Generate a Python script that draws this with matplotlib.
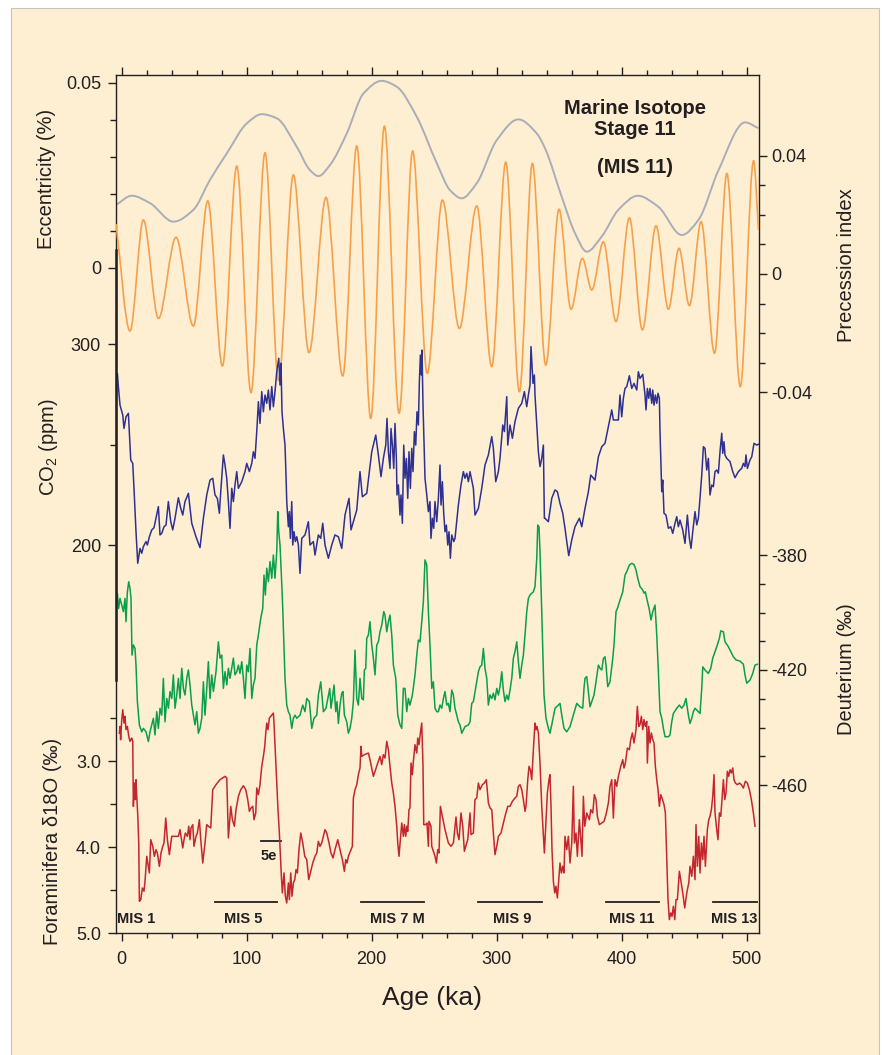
"""
Orbital forcing and climate records of the last 500 ka (MIS 11 figure).
"""

import matplotlib
matplotlib.use("Agg")

import numpy as np
import matplotlib.pyplot as plt
from matplotlib.path import Path
from matplotlib.patches import PathPatch, Rectangle

plt.rcParams["font.family"] = ["Liberation Sans", "DejaVu Sans"]
plt.rcParams["mathtext.fontset"] = "custom"
plt.rcParams["mathtext.rm"] = "Liberation Sans"

# ---------------------------------------------------------------- data
# eccentricity (age ka, value)
eccentricity = [
    (-4.5, 0.0170), (8.1, 0.0195), (22.7, 0.0175), (41.4, 0.0125), (57.4, 0.0157),
    (70.7, 0.0238), (84.1, 0.0309), (100.1, 0.0390), (112.1, 0.0415), (124.1, 0.0404),
    (140.1, 0.0327), (150.7, 0.0264), (157.4, 0.0248), (166.7, 0.0278), (180.1, 0.0363),
    (193.5, 0.0471), (208.1, 0.0505), (220.1, 0.0489), (236.1, 0.0408), (252.1, 0.0283),
    (262.7, 0.0210), (272.1, 0.0188), (284.1, 0.0229), (300.1, 0.0345), (317.4, 0.0401),
    (332.1, 0.0363), (338.7, 0.0323), (352.1, 0.0192), (362.7, 0.0094), (372.1, 0.0044),
    (384.1, 0.0085), (397.4, 0.0157), (412.9, 0.0195), (429.4, 0.0165), (448.1, 0.0089),
    (461.5, 0.0130), (477.5, 0.0264), (498.8, 0.0393), (509.5, 0.0377),
]

# precession index, peaks and troughs (age ka, value)
precession = [
    (-4.5, 0.0169), (6.7, -0.0193), (17.4, 0.0183), (29.4, -0.0150), (43.5, 0.0124),
    (57.4, -0.0176), (68.9, 0.0247), (80.6, -0.0311), (92.1, 0.0365), (103.5, -0.0401),
    (114.7, 0.0410), (125.5, -0.0360), (137.4, 0.0335), (149.9, -0.0266), (163.5, 0.0259),
    (176.9, -0.0345), (188.1, 0.0433), (199.3, -0.0488), (210.2, 0.0500), (222.0, -0.0471),
    (232.8, 0.0416), (244.5, -0.0336), (256.6, 0.0250), (270.2, -0.0184), (284.1, 0.0230),
    (296.1, -0.0313), (307.3, 0.0378), (318.2, -0.0398), (328.6, 0.0374), (339.3, -0.0308),
    (349.9, 0.0219), (359.5, -0.0119), (368.6, 0.0053), (376.1, -0.0054), (385.4, 0.0109),
    (395.5, -0.0161), (406.2, 0.0190), (416.6, -0.0189), (427.5, 0.0163), (437.4, -0.0119),
    (445.9, 0.0087), (454.2, -0.0107), (463.6, 0.0177), (474.3, -0.0268), (484.2, 0.0340),
    (494.9, -0.0381), (505.6, 0.0383), (509.5, 0.0149),
]

# CO2 (age ka, ppm)
co2 = [
    (-4.5, 284.6), (-3.4, 285.4), (-2.6, 278.8), (-1.3, 269.6), (0.9, 264.7), (1.9, 258.0),
    (3.5, 263.8), (5.4, 265.5), (7.3, 242.3), (8.9, 240.6), (9.9, 228.2), (11.5, 206.6),
    (12.9, 190.9), (14.7, 198.3), (16.1, 195.9), (17.4, 199.2), (19.5, 201.7), (20.6, 200.0),
    (22.2, 204.1), (24.1, 207.5), (25.9, 208.6), (27.5, 213.3), (29.4, 219.1), (30.7, 205.0),
    (32.1, 205.8), (33.9, 209.1), (35.5, 209.9), (37.4, 221.6), (39.3, 211.6), (40.9, 207.5),
    (42.7, 213.3), (45.4, 223.5), (47.3, 218.2), (48.9, 214.9), (50.7, 221.6), (53.4, 225.7),
    (56.1, 210.8), (59.5, 204.1), (62.7, 198.7), (65.4, 213.3), (68.1, 224.9), (70.7, 232.3),
    (72.9, 233.2), (74.7, 224.9), (76.6, 223.2), (78.2, 215.8), (79.3, 226.5), (81.4, 244.8),
    (82.7, 239.8), (84.1, 233.2), (85.4, 221.6), (86.7, 208.3), (88.1, 228.2), (89.4, 221.6),
    (90.7, 229.9), (92.1, 236.5), (93.4, 228.2), (96.1, 231.5), (98.7, 236.5), (100.1, 240.6),
    (102.2, 236.5), (104.1, 240.6), (105.4, 246.4), (106.7, 243.1), (108.1, 256.4), (109.4, 271.3),
    (110.7, 260.5), (112.1, 276.3), (113.4, 266.3), (114.7, 274.6), (116.1, 270.5), (117.4, 277.1),
    (118.7, 267.2), (120.1, 278.8), (121.4, 268.8), (122.7, 276.3), (124.1, 286.2), (124.9, 289.5),
    (125.7, 292.9), (126.7, 279.6), (127.5, 290.4), (128.3, 266.3), (129.4, 258.0), (130.7, 249.7),
    (131.5, 234.8), (132.1, 221.6), (133.4, 209.1), (134.2, 216.6), (135.0, 203.3), (136.1, 221.6),
    (136.9, 200.0), (137.9, 206.6), (139.0, 201.7), (140.1, 204.1), (141.4, 200.0), (142.7, 185.9),
    (144.1, 203.3), (146.7, 205.0), (149.4, 211.6), (150.7, 200.0), (153.4, 201.7), (154.7, 195.0),
    (157.4, 205.0), (159.3, 203.3), (160.9, 210.8), (162.7, 200.0), (165.4, 193.4), (168.1, 200.0),
    (170.7, 205.0), (173.4, 204.1), (176.1, 198.3), (178.7, 214.9), (181.9, 223.2), (183.5, 207.5),
    (185.4, 211.6), (188.1, 217.4), (190.7, 236.5), (192.6, 224.0), (196.1, 225.7), (200.1, 246.4),
    (203.3, 254.7), (205.4, 244.8), (207.5, 234.0), (209.4, 243.1), (211.3, 249.7), (212.3, 263.0),
    (213.4, 246.4), (214.7, 238.1), (215.5, 258.0), (216.6, 249.7), (217.7, 238.1), (218.7, 260.5),
    (219.8, 243.1), (220.3, 224.9), (221.4, 229.9), (222.7, 214.9), (223.5, 224.9), (224.6, 210.8),
    (225.7, 249.7), (226.7, 233.2), (227.8, 243.1), (228.9, 223.2), (229.9, 246.4), (231.0, 228.2),
    (232.1, 248.1), (233.1, 236.5), (234.2, 256.4), (235.3, 249.7), (236.3, 266.3), (237.4, 259.7),
    (238.2, 281.3), (239.0, 294.5), (239.8, 284.6), (240.3, 297.0), (241.1, 269.6), (241.9, 251.4),
    (242.7, 233.2), (244.1, 224.9), (245.4, 216.6), (246.7, 221.6), (247.5, 203.3), (248.6, 213.3),
    (249.7, 208.3), (250.7, 221.6), (252.1, 211.6), (253.4, 223.2), (254.7, 239.8), (255.5, 219.9),
    (256.6, 231.5), (257.6, 216.6), (258.7, 206.6), (259.8, 209.9), (260.9, 200.0), (261.9, 206.6),
    (263.0, 193.4), (264.1, 205.0), (265.7, 201.7), (266.7, 203.3), (269.4, 219.9), (271.5, 229.9),
    (273.4, 236.5), (274.7, 233.2), (276.1, 235.7), (277.4, 231.5), (278.7, 236.5), (281.4, 228.2),
    (282.7, 214.9), (285.4, 218.2), (288.1, 228.2), (290.7, 239.8), (293.4, 244.8), (296.1, 253.9),
    (297.4, 248.1), (299.3, 231.5), (301.4, 236.5), (302.7, 243.1), (304.9, 259.7), (306.2, 256.4),
    (308.1, 273.8), (308.9, 249.7), (310.7, 259.7), (312.6, 253.1), (314.7, 261.4), (317.4, 268.0),
    (320.1, 270.5), (322.2, 276.3), (324.1, 268.8), (325.4, 274.6), (326.7, 279.6), (327.5, 298.7),
    (328.3, 289.5), (329.1, 280.4), (330.2, 284.6), (330.7, 274.6), (333.4, 246.4), (334.7, 239.0),
    (336.1, 243.1), (337.4, 249.7), (338.2, 213.3), (338.7, 213.3), (341.4, 211.6), (344.1, 223.2),
    (346.7, 227.4), (348.6, 226.5), (350.7, 220.7), (352.9, 215.8), (354.7, 208.3), (356.1, 201.7),
    (357.7, 194.7), (360.1, 202.5), (362.7, 209.1), (366.2, 213.3), (368.1, 209.1), (370.7, 218.2),
    (373.4, 226.5), (375.3, 234.8), (378.7, 232.3), (381.4, 243.9), (384.1, 248.9), (386.7, 250.6),
    (389.4, 258.9), (392.1, 267.2), (393.4, 262.2), (397.4, 262.2), (398.7, 274.6), (400.1, 263.8),
    (401.4, 273.0), (402.7, 277.9), (404.1, 278.8), (406.2, 284.2), (408.1, 277.9), (409.9, 280.4),
    (412.1, 277.1), (413.4, 286.2), (414.7, 282.9), (416.9, 284.9), (418.7, 274.6), (419.5, 267.2),
    (420.6, 277.9), (421.7, 273.0), (422.7, 277.9), (424.1, 270.5), (424.9, 277.1), (425.9, 269.6),
    (427.0, 274.6), (428.1, 270.5), (429.1, 275.5), (430.2, 273.0), (430.7, 256.4), (431.3, 243.1),
    (432.1, 226.5), (432.9, 232.3), (433.9, 215.8), (435.5, 214.9), (437.4, 208.3), (439.3, 209.1),
    (440.9, 205.8), (442.7, 210.8), (444.1, 214.1), (445.4, 209.1), (446.7, 212.4), (448.9, 207.5),
    (450.7, 200.8), (452.6, 214.9), (454.2, 203.3), (455.5, 198.3), (456.9, 206.6), (458.7, 216.6),
    (460.1, 210.0), (461.4, 213.3), (462.7, 223.2), (464.1, 234.8), (465.4, 248.9), (466.7, 248.1),
    (468.1, 237.3), (469.4, 243.1), (470.7, 224.9), (472.1, 229.8), (473.4, 229.0), (474.7, 236.5),
    (476.1, 237.3), (477.4, 235.7), (478.7, 246.4), (480.1, 255.6), (480.9, 245.6), (481.9, 251.4),
    (482.7, 244.8), (484.1, 243.1), (486.7, 241.5), (488.9, 236.5), (490.7, 233.5), (493.4, 236.5),
    (496.1, 238.2), (497.4, 240.6), (498.7, 239.0), (499.5, 244.8), (500.6, 238.1), (502.7, 242.3),
    (504.1, 243.9), (505.9, 250.6), (508.1, 249.7), (509.4, 250.1),
]

# deuterium (age ka, permil)
deuterium = [
    (-4.9, -392.8), (-4.5, -399.7), (-3.4, -393.3), (-2.4, -398.6), (-1.3, -395.1), (0.1, -397.4),
    (1.4, -399.7), (2.7, -395.1), (3.5, -403.2), (4.6, -392.8), (5.7, -389.3), (6.7, -391.6),
    (7.5, -395.1), (8.3, -414.8), (9.4, -411.3), (10.7, -412.5), (11.5, -418.3), (12.6, -431.0),
    (14.2, -439.1), (16.1, -441.5), (17.4, -440.3), (19.5, -441.5), (21.4, -444.9), (22.7, -441.5),
    (24.1, -439.1), (25.4, -436.8), (26.7, -442.6), (28.1, -434.5), (29.4, -440.3), (30.7, -433.3),
    (32.1, -435.7), (33.4, -422.9), (34.7, -438.0), (36.1, -429.9), (37.4, -433.3), (38.7, -427.5),
    (40.1, -429.9), (41.4, -421.7), (42.7, -433.3), (44.1, -428.7), (45.4, -422.9), (46.7, -429.9),
    (48.1, -419.4), (49.4, -426.4), (50.7, -428.7), (52.1, -422.9), (53.4, -420.0), (54.7, -425.2),
    (56.1, -432.2), (57.4, -435.7), (58.7, -439.1), (60.1, -434.5), (61.4, -442.0), (62.7, -440.3),
    (64.1, -436.8), (65.4, -424.1), (66.7, -435.7), (68.1, -426.4), (69.4, -417.1), (70.7, -429.9),
    (72.1, -421.7), (73.4, -427.5), (75.5, -420.6), (77.4, -410.2), (78.7, -415.9), (80.1, -414.8),
    (81.4, -426.4), (82.7, -420.6), (84.1, -425.2), (85.4, -419.4), (86.7, -422.9), (89.4, -415.9),
    (90.7, -421.7), (92.1, -420.6), (93.4, -418.3), (94.7, -421.2), (96.1, -417.1), (97.4, -422.9),
    (98.7, -429.9), (100.1, -418.3), (101.4, -420.6), (102.7, -412.5), (104.1, -429.9), (105.4, -425.2),
    (106.7, -422.9), (108.1, -411.3), (109.4, -407.8), (111.3, -402.0), (112.9, -398.6), (113.9, -387.0),
    (115.0, -393.9), (116.1, -384.6), (117.4, -389.3), (118.7, -382.3), (120.1, -388.1), (121.4, -380.0),
    (122.7, -388.1), (124.1, -378.8), (124.9, -364.9), (125.7, -371.9), (126.7, -376.5), (127.8, -387.0),
    (128.9, -398.6), (129.9, -412.5), (130.7, -422.9), (132.1, -432.2), (133.4, -434.5), (134.7, -435.7),
    (136.1, -440.3), (137.4, -436.8), (138.7, -435.7), (140.1, -436.8), (142.7, -435.7), (144.9, -432.2),
    (146.7, -434.5), (148.1, -429.9), (150.2, -431.0), (152.1, -440.3), (153.9, -436.8), (156.1, -435.7),
    (157.4, -428.7), (159.3, -424.1), (161.4, -434.5), (163.5, -433.3), (166.5, -426.4), (167.5, -433.3),
    (168.6, -429.9), (169.9, -425.2), (171.3, -434.5), (172.3, -431.0), (173.4, -438.6), (174.7, -432.2),
    (176.1, -428.1), (177.1, -427.5), (178.2, -435.7), (180.1, -438.0), (181.4, -442.0), (182.7, -440.3),
    (184.1, -436.8), (185.4, -431.0), (186.7, -413.1), (188.1, -429.9), (189.4, -432.2), (190.7, -422.9),
    (192.1, -429.9), (193.4, -430.4), (194.2, -420.0), (195.3, -419.4), (196.1, -409.0), (197.4, -407.8),
    (198.7, -403.2), (200.1, -411.3), (201.4, -415.9), (202.7, -421.7), (204.1, -411.3), (205.4, -410.2),
    (206.7, -406.7), (208.1, -404.4), (209.7, -399.7), (210.7, -400.9), (212.1, -406.7), (213.4, -403.2),
    (214.7, -400.9), (216.1, -407.8), (217.4, -418.3), (219.3, -422.9), (220.9, -435.7), (222.7, -439.1),
    (224.1, -440.3), (225.4, -426.4), (226.7, -426.4), (228.1, -434.5), (229.4, -429.9), (230.7, -432.2),
    (232.6, -428.7), (234.7, -421.7), (236.1, -414.8), (237.4, -409.6), (238.7, -410.2), (240.1, -403.2),
    (241.4, -396.2), (242.7, -381.7), (244.1, -383.5), (245.4, -399.7), (246.7, -411.3), (248.1, -426.4),
    (249.4, -424.1), (250.7, -433.3), (252.1, -434.5), (253.4, -434.5), (254.7, -432.2), (256.1, -433.3),
    (257.4, -429.9), (258.7, -427.5), (260.1, -432.2), (261.4, -431.6), (262.7, -434.5), (264.1, -427.0),
    (265.4, -428.7), (266.7, -433.3), (268.1, -435.7), (269.4, -438.0), (270.7, -439.1), (272.1, -442.0),
    (274.7, -439.7), (277.4, -439.1), (278.7, -438.0), (280.1, -431.6), (281.4, -431.0), (284.1, -424.1),
    (285.4, -420.6), (286.7, -418.9), (288.1, -418.3), (289.4, -412.5), (290.7, -419.4), (292.1, -422.9),
    (293.4, -432.2), (294.7, -428.7), (296.1, -429.9), (297.4, -428.1), (298.7, -430.4), (300.1, -426.4),
    (301.4, -428.7), (302.7, -425.8), (304.1, -420.6), (305.4, -427.0), (306.7, -431.0), (308.1, -428.7),
    (309.4, -430.4), (310.7, -427.0), (312.1, -422.9), (313.4, -415.9), (314.7, -413.6), (316.1, -410.2),
    (317.4, -417.1), (318.7, -422.9), (320.1, -418.3), (321.4, -414.8), (322.7, -407.8), (324.1, -399.7),
    (325.4, -395.1), (326.7, -393.9), (328.1, -393.3), (329.4, -392.8), (330.7, -391.0), (332.1, -381.2),
    (332.9, -369.6), (333.9, -370.2), (334.7, -378.8), (336.1, -399.7), (337.9, -428.7), (339.5, -436.8),
    (341.4, -440.3), (342.7, -442.0), (344.1, -439.1), (346.7, -433.3), (349.4, -432.2), (350.7, -431.6),
    (352.1, -435.7), (353.9, -440.3), (356.1, -441.5), (358.7, -439.7), (361.4, -435.7), (364.1, -431.6),
    (366.7, -432.8), (368.9, -433.3), (369.9, -426.4), (370.7, -422.9), (372.1, -422.3), (373.4, -427.5),
    (374.7, -432.8), (376.1, -431.0), (377.9, -428.7), (379.5, -424.1), (381.4, -418.3), (382.7, -419.4),
    (384.1, -420.0), (385.4, -416.0), (386.7, -415.4), (387.5, -418.3), (388.9, -425.8), (390.7, -424.1),
    (392.9, -416.0), (393.9, -411.3), (395.5, -399.7), (396.6, -398.6), (398.7, -395.7), (400.9, -392.8),
    (402.7, -387.0), (404.1, -385.8), (406.2, -383.5), (408.1, -382.9), (409.9, -383.3), (411.5, -385.2),
    (412.9, -388.1), (414.7, -391.0), (416.9, -392.2), (417.9, -393.3), (419.0, -392.8), (420.1, -395.1),
    (422.2, -399.1), (423.5, -402.6), (424.9, -399.7), (426.7, -397.4), (428.1, -407.8), (429.4, -420.6),
    (430.7, -434.5), (432.1, -436.8), (433.4, -440.3), (434.7, -443.2), (437.4, -443.2), (438.7, -442.6),
    (440.1, -438.0), (441.4, -435.1), (444.1, -433.3), (446.2, -432.2), (448.1, -433.3), (449.9, -432.2),
    (451.5, -429.9), (452.6, -433.3), (453.4, -435.7), (454.7, -438.6), (456.1, -436.8), (457.4, -434.5),
    (458.7, -433.3), (460.1, -433.9), (461.4, -434.5), (462.7, -435.1), (464.1, -426.4), (464.9, -418.9),
    (466.7, -420.0), (469.4, -421.2), (471.3, -419.4), (472.9, -415.9), (474.7, -413.6), (476.1, -411.9),
    (478.2, -409.0), (479.3, -406.4), (481.4, -406.7), (482.7, -410.2), (485.4, -411.9), (487.3, -413.6),
    (489.4, -415.4), (491.5, -416.5), (494.7, -416.9), (497.4, -418.0), (498.7, -421.7), (500.1, -424.6),
    (502.7, -423.5), (504.9, -421.2), (506.7, -418.3), (508.6, -418.0),
]

# foraminifera d18O (age ka, permil)
d18o = [
    (-1.8, 2.670), (-1.3, 2.593), (-0.8, 2.748), (0.1, 2.515), (0.9, 2.399), (1.9, 2.554),
    (2.7, 2.476), (3.5, 2.631), (4.6, 2.593), (5.7, 2.709), (6.7, 2.767), (8.1, 2.728),
    (8.9, 2.767), (9.4, 3.523), (10.2, 3.252), (11.0, 3.445), (11.5, 3.213), (12.1, 3.407),
    (12.9, 3.620), (13.7, 3.949), (14.2, 4.628), (15.3, 4.608), (16.6, 4.473), (17.9, 4.511),
    (18.7, 4.395), (20.1, 4.104), (21.4, 4.221), (22.2, 4.298), (23.3, 3.911), (24.9, 3.988),
    (26.2, 4.104), (27.5, 4.027), (28.6, 4.066), (30.2, 4.221), (31.5, 4.066), (32.9, 3.988),
    (33.9, 3.949), (35.3, 3.659), (36.6, 3.911), (38.2, 4.085), (40.1, 3.872), (41.9, 3.872),
    (45.4, 3.872), (46.7, 3.794), (47.5, 3.872), (48.9, 4.007), (49.9, 3.911), (51.0, 3.833),
    (52.6, 3.872), (53.7, 3.755), (54.7, 3.911), (55.5, 3.775), (56.9, 3.736), (57.9, 3.988),
    (59.5, 3.872), (60.6, 3.833), (62.2, 3.678), (63.3, 3.911), (64.9, 4.182), (66.7, 3.949),
    (68.1, 3.736), (69.4, 3.755), (71.3, 3.775), (72.9, 3.329), (75.5, 3.271), (78.7, 3.213),
    (82.7, 3.174), (84.1, 3.193), (85.4, 3.891), (87.3, 3.523), (88.6, 3.678), (90.2, 3.755),
    (91.5, 3.562), (93.4, 3.407), (95.3, 3.329), (97.4, 3.283), (99.3, 3.329), (100.9, 3.445),
    (102.2, 3.581), (103.5, 3.542), (104.9, 3.523), (105.9, 3.678), (107.3, 3.600), (108.1, 3.310),
    (109.4, 3.387), (110.7, 3.271), (112.1, 3.058), (113.4, 2.942), (114.5, 2.825), (115.3, 2.670),
    (116.1, 2.554), (117.1, 2.631), (118.2, 2.496), (119.3, 2.476), (120.3, 2.457), (121.4, 2.438),
    (121.9, 2.554), (123.0, 2.903), (124.1, 3.252), (125.1, 3.562), (126.2, 3.833), (127.3, 4.182),
    (127.8, 4.337), (128.6, 4.531), (129.9, 4.298), (131.0, 4.569), (132.1, 4.647), (133.4, 4.414),
    (134.2, 4.608), (135.3, 4.298), (136.3, 4.569), (137.4, 4.414), (138.5, 4.376), (139.5, 4.259),
    (140.6, 4.298), (141.9, 4.027), (143.3, 3.833), (144.9, 3.949), (146.5, 4.104), (148.1, 4.143),
    (149.7, 4.376), (151.3, 4.279), (152.9, 4.182), (154.7, 4.104), (156.1, 4.066), (157.4, 3.930),
    (158.7, 3.988), (160.1, 3.949), (162.7, 3.794), (164.1, 3.833), (165.9, 3.949), (167.5, 4.066),
    (169.1, 4.124), (170.7, 4.027), (172.9, 3.911), (174.7, 4.027), (176.6, 4.143), (178.2, 4.279),
    (179.3, 4.143), (180.3, 4.182), (181.4, 4.104), (183.0, 4.046), (184.6, 3.988), (185.4, 3.426),
    (186.7, 3.329), (188.1, 3.271), (189.4, 3.155), (190.7, 3.077), (191.5, 2.825), (192.1, 2.942),
    (194.2, 2.922), (197.4, 2.903), (198.7, 2.980), (201.4, 3.174), (202.7, 3.116), (204.9, 3.019),
    (206.7, 2.942), (208.1, 3.038), (209.4, 2.922), (210.7, 2.961), (212.1, 2.767), (213.4, 2.864),
    (214.7, 3.058), (216.1, 3.252), (217.4, 3.368), (218.7, 3.523), (220.1, 3.755), (220.9, 3.949),
    (221.9, 4.104), (223.0, 3.911), (224.1, 3.717), (225.4, 3.872), (226.2, 3.736), (227.3, 3.872),
    (228.1, 3.755), (228.9, 3.814), (229.9, 3.562), (230.7, 3.542), (231.5, 3.019), (232.6, 3.155),
    (233.4, 2.999), (234.7, 2.806), (236.1, 2.903), (236.9, 2.728), (237.9, 2.806), (239.0, 2.670),
    (240.1, 2.554), (241.1, 3.058), (241.7, 3.736), (243.3, 3.736), (244.3, 3.717), (245.4, 3.988),
    (245.9, 3.697), (247.5, 3.755), (248.1, 3.988), (249.4, 4.046), (250.7, 4.104), (251.8, 4.182),
    (252.9, 4.027), (253.9, 4.066), (255.0, 3.523), (256.6, 3.639), (258.7, 3.794), (261.4, 3.949),
    (263.5, 3.988), (265.4, 3.949), (266.7, 3.755), (267.5, 3.647), (268.6, 3.833), (269.9, 3.911),
    (271.5, 3.600), (272.9, 3.755), (274.2, 4.046), (275.3, 3.988), (276.9, 3.911), (278.7, 3.600),
    (279.5, 3.852), (281.4, 3.833), (282.7, 3.445), (284.1, 3.426), (285.4, 3.252), (286.7, 3.329),
    (288.6, 3.271), (290.2, 3.252), (291.8, 3.213), (293.4, 3.484), (294.7, 3.542), (296.1, 3.562),
    (297.4, 3.833), (298.7, 4.085), (300.1, 3.988), (301.4, 3.872), (303.5, 3.833), (305.4, 3.717),
    (306.7, 3.639), (308.9, 3.523), (310.7, 3.523), (312.6, 3.465), (314.7, 3.426), (316.1, 3.407),
    (317.4, 3.290), (318.7, 3.271), (320.1, 3.329), (321.4, 3.445), (322.7, 3.581), (323.5, 3.523),
    (324.9, 3.213), (325.9, 3.058), (327.0, 3.097), (328.1, 3.213), (328.9, 2.999), (329.7, 2.786),
    (330.7, 2.554), (331.5, 2.631), (332.3, 2.593), (333.4, 2.670), (334.7, 3.019), (336.1, 3.523),
    (337.4, 3.872), (338.2, 4.066), (339.5, 3.678), (340.6, 3.368), (341.9, 3.213), (342.7, 3.155),
    (343.5, 3.523), (344.3, 4.027), (345.4, 4.395), (346.5, 4.531), (347.5, 4.453), (348.6, 4.589),
    (349.7, 4.376), (350.7, 4.182), (351.8, 4.298), (352.9, 4.221), (353.9, 4.298), (354.7, 3.872),
    (356.1, 4.027), (357.4, 3.872), (358.7, 4.182), (360.1, 3.949), (361.4, 3.290), (362.2, 3.949),
    (363.5, 3.833), (364.6, 4.104), (366.2, 3.678), (367.3, 3.911), (368.3, 4.104), (369.4, 3.407),
    (370.5, 3.755), (372.1, 3.600), (374.2, 3.678), (375.3, 3.562), (376.9, 3.600), (378.2, 3.387),
    (379.5, 3.445), (380.6, 3.639), (382.2, 3.736), (384.1, 3.717), (385.9, 3.697), (387.5, 3.620),
    (389.4, 3.484), (390.7, 3.290), (392.1, 3.213), (393.4, 3.659), (394.7, 3.213), (396.1, 3.290),
    (397.4, 3.174), (399.3, 3.058), (400.9, 2.980), (401.9, 3.077), (403.0, 3.019), (404.6, 2.845),
    (406.2, 2.864), (407.3, 2.748), (408.6, 2.670), (409.9, 2.786), (411.5, 2.631), (412.6, 2.360),
    (413.7, 2.593), (414.7, 2.573), (415.8, 2.476), (416.9, 2.631), (417.9, 2.515), (419.0, 2.593),
    (420.1, 2.535), (420.6, 3.019), (421.7, 2.593), (422.7, 2.786), (423.8, 2.670), (424.9, 2.748),
    (425.9, 2.786), (427.0, 3.058), (428.1, 3.213), (429.1, 3.329), (430.2, 3.523), (431.3, 3.387),
    (432.3, 3.426), (433.9, 3.503), (435.0, 3.600), (436.1, 4.143), (437.1, 4.608), (438.2, 4.841),
    (439.3, 4.763), (440.3, 4.802), (441.4, 4.686), (442.5, 4.841), (443.5, 4.608), (444.6, 4.608),
    (446.2, 4.279), (447.3, 4.376), (448.9, 4.531), (450.5, 4.705), (452.1, 4.531), (453.7, 4.414),
    (454.7, 4.221), (456.1, 4.337), (457.4, 4.104), (458.7, 4.376), (459.5, 3.736), (460.6, 4.221),
    (461.7, 3.872), (462.7, 4.298), (463.8, 3.949), (464.9, 4.143), (465.9, 3.872), (467.0, 4.221),
    (468.6, 3.794), (469.7, 3.678), (470.7, 3.639), (471.8, 3.562), (472.9, 3.407), (473.9, 3.155),
    (474.7, 3.600), (476.1, 3.794), (477.1, 3.911), (478.2, 3.600), (479.3, 3.639), (480.3, 3.445),
    (481.4, 3.213), (482.5, 3.445), (483.5, 3.368), (484.6, 3.116), (485.7, 3.174), (486.7, 3.097),
    (487.8, 3.135), (488.9, 3.077), (489.9, 3.213), (491.0, 3.252), (492.6, 3.271), (494.2, 3.252),
    (495.8, 3.271), (497.4, 3.310), (499.0, 3.232), (500.6, 3.252), (502.2, 3.329), (503.8, 3.445),
    (505.4, 3.600), (506.7, 3.755),
]

# marine isotope stages: bar extent (ka) and label
mis_bars = [(74.7, 124.3), (191.5, 241.9), (285.1, 336.3), (387.5, 429.9), (473.1, 508.3)]
mis_labels = ["MIS 1", "MIS 5", "MIS 7 M", "MIS 9", "MIS 11", "MIS 13"]
mis_label_age = [-3.7, 97.4, 220.3, 312.2, 408.0, 490.0]
sub5e_bar = (111.3, 127.3)

# ---------------------------------------------------------------- layout
W, H = 882, 1055
TOP, BOTTOM, LEFT, RIGHT = 74.7, 933.3, 115.5, 759.0
INK = "#231f20"

C_ECC = "#a9adb8"
C_PREC = "#f6a04a"
C_CO2 = "#2e3192"
C_DD = "#0a9f49"
C_O18 = "#c4262e"


def band(v1, p1, v2, p2):
    """y limits that put value v1 at pixel row p1 and v2 at p2."""
    k = (v2 - v1) / (p2 - p1)
    return v1 + (BOTTOM - p1) * k, v1 + (TOP - p1) * k


def yfrac(p):
    return (BOTTOM - p) / (BOTTOM - TOP)


def smooth_path(points):
    xs = np.array([p[0] for p in points], float)
    ys = np.array([p[1] for p in points], float)
    h = np.diff(xs)
    d = np.diff(ys) / h
    m = np.zeros_like(xs)
    for i in range(1, len(xs) - 1):
        if d[i - 1] * d[i] > 0:
            w1 = 2 * h[i] + h[i - 1]
            w2 = h[i] + 2 * h[i - 1]
            m[i] = (w1 + w2) / (w1 / d[i - 1] + w2 / d[i])
    m[0], m[-1] = d[0], d[-1]
    verts = [(xs[0], ys[0])]
    codes = [Path.MOVETO]
    for i in range(len(h)):
        verts += [
            (xs[i] + h[i] / 3, ys[i] + m[i] * h[i] / 3),
            (xs[i + 1] - h[i] / 3, ys[i + 1] - m[i + 1] * h[i] / 3),
            (xs[i + 1], ys[i + 1]),
        ]
        codes += [Path.CURVE4] * 3
    return Path(verts, codes)


fig = plt.figure(figsize=(W / 100, H / 100), dpi=100, facecolor="white")
fig.patches.append(Rectangle(
    (11 / W, -0.01), (879 - 11) / W, 1.01 - 8 / H,
    transform=fig.transFigure, facecolor="#feefd3",
    edgecolor="#c8c4bc", linewidth=0.8, zorder=-5,
))

rect = [LEFT / W, 1 - BOTTOM / H, (RIGHT - LEFT) / W, (BOTTOM - TOP) / H]
ax = fig.add_axes(rect)
ax.patch.set_visible(False)
ax.set_xlim(-4.9, 509.9)

ax_prec = ax.twinx()
ax_dd = ax.twinx()
ax_co2 = ax.twinx()
ax_o18 = ax.twinx()

for a in (ax_prec, ax_dd, ax_co2, ax_o18):
    for s in a.spines.values():
        s.set_visible(False)
for s in ax.spines.values():
    s.set_color(INK)
    s.set_linewidth(1.0)

# eccentricity (left)
ax.set_ylim(*band(0.0, 268.0, 0.05, 82.7))
ax.add_patch(PathPatch(smooth_path(eccentricity), fill=False, edgecolor=C_ECC, lw=1.4))
ax.set_yticks([0, 0.05], ["0", "0.05"])
ax.set_yticks([0.01, 0.02, 0.03, 0.04], minor=True)

# precession (right)
ax_prec.set_ylim(*band(0.0, 274.0, 0.04, 155.7))
ax_prec.add_patch(PathPatch(smooth_path(precession), fill=False, edgecolor=C_PREC, lw=1.2))
ax_prec.set_yticks([-0.04, 0, 0.04], ["-0.04", "0", "0.04"])
ax_prec.set_yticks([-0.03, -0.02, -0.01, 0.01, 0.02, 0.03], minor=True)

# deuterium (right)
ax_dd.set_ylim(*band(-420.0, 670.0, -460.0, 785.0))
ax_dd.plot([p[0] for p in deuterium], [p[1] for p in deuterium], color=C_DD, lw=1.1)
ax_dd.set_yticks([-460, -420, -380], ["-460", "-420", "-380"])
ax_dd.set_yticks([-450, -440, -430, -410, -400, -390], minor=True)

# CO2 (left)
ax_co2.set_ylim(*band(300.0, 344.0, 200.0, 545.0))
ax_co2.plot([p[0] for p in co2], [p[1] for p in co2], color=C_CO2, lw=1.1)
ax_co2.yaxis.tick_left()
ax_co2.set_yticks([200, 300], ["200", "300"])
ax_co2.set_yticks([250], minor=True)
ax_co2.spines["left"].set_visible(True)
ax_co2.spines["left"].set_color(INK)
ax_co2.spines["left"].set_linewidth(1.8)
ax_co2.spines["left"].set_bounds(300 - (680 - 344) / 2.01, 300 + (344 - 250) / 2.01)

# d18O (left, reversed)
ax_o18.set_ylim(*band(3.0, 761.7, 5.0, 933.7))
ax_o18.plot([p[0] for p in d18o], [p[1] for p in d18o], color=C_O18, lw=1.1)
ax_o18.yaxis.tick_left()
ax_o18.set_yticks([3, 4, 5], ["3.0", "4.0", "5.0"])
ax_o18.set_yticks([2.5, 3.5, 4.5], minor=True)

# ticks
ax.set_xticks(np.arange(0, 501, 100))
ax.set_xticks(np.arange(0, 511, 20), minor=True)
ax.tick_params(axis="x", which="both", direction="out", top=True, bottom=True,
               labeltop=False, colors=INK, labelsize=13, pad=7)
ax.tick_params(axis="x", which="major", length=6, width=1.0)
ax.tick_params(axis="x", which="minor", length=3.3, width=1.0)

for a, side in ((ax, "left"), (ax_co2, "left"), (ax_o18, "left"),
                (ax_prec, "right"), (ax_dd, "right")):
    a.tick_params(axis="y", which="both", direction="out", colors=INK,
                  labelsize=13, width=1.0, pad=5 if side == "left" else 3)
    a.tick_params(axis="y", which="major", length=5.5)
    a.tick_params(axis="y", which="minor", length=4)

# axis titles
TXT = dict(color=INK, rotation=90, ha="center", va="center", fontsize=14.5)
fig.text(47 / W, 1 - 178.5 / H, "Eccentricity (%)", **TXT)
fig.text(48 / W, 1 - 447 / H, r"CO$_\mathregular{2}$ (ppm)", **TXT)
fig.text(53 / W, 1 - 841 / H, "Foraminifera δ18O (‰)", **TXT)
fig.text(846 / W, 1 - 265 / H, "Precession index", **TXT)
fig.text(846 / W, 1 - 669 / H, "Deuterium (‰)", **TXT)
fig.text(431.6 / W, 1 - 998 / H, "Age (ka)", color=INK, ha="center", va="center", fontsize=19)

# annotations
BOLD = dict(color=INK, fontweight="bold", ha="center", va="center")
fig.text(635 / W, 1 - 109 / H, "Marine Isotope", fontsize=14.5, **BOLD)
fig.text(635 / W, 1 - 130 / H, "Stage 11", fontsize=14.5, **BOLD)
fig.text(635 / W, 1 - 167.7 / H, "(MIS 11)", fontsize=14.5, **BOLD)

xt = ax.get_xaxis_transform()
for x0, x1 in mis_bars:
    ax.plot([x0, x1], [yfrac(901.7)] * 2, color=INK, lw=1.3, transform=xt, clip_on=False)
for lab, age in zip(mis_labels, mis_label_age):
    ax.text(age, yfrac(919), lab, transform=xt, fontsize=10.5, fontweight="bold",
            color=INK, ha="left" if lab == "MIS 1" else "center", va="center")
ax.plot(sub5e_bar, [yfrac(840.7)] * 2, color=INK, lw=1.3, transform=xt)
ax.text(117.7, yfrac(856), "5e", transform=xt, fontsize=10.5, fontweight="bold",
        color=INK, ha="center", va="center")

fig.savefig("out.png", dpi=100, facecolor="white")
